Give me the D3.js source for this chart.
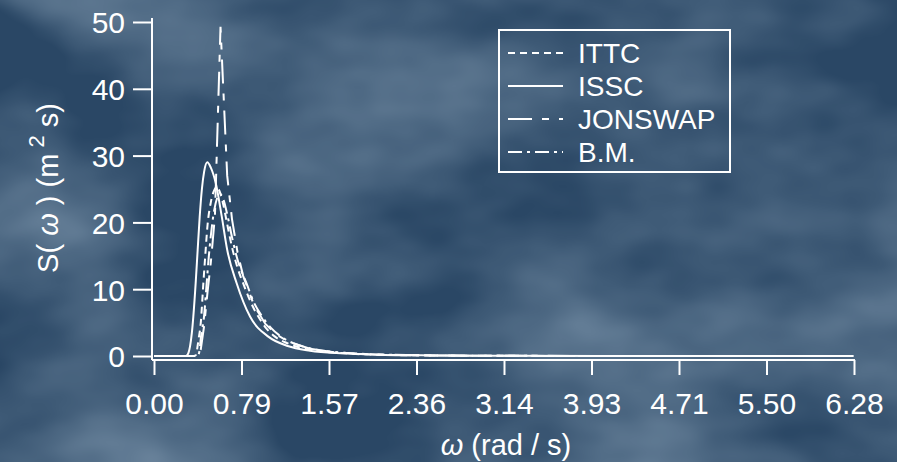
<!DOCTYPE html>
<html>
<head>
<meta charset="utf-8">
<script src="https://cdn.jsdelivr.net/npm/d3@7"></script>
<style>
  body { margin: 0; background: #2c4a68; }
  svg { display: block; font-family: "Liberation Sans", Arial, sans-serif; }
</style>
</head>
<body>
<svg width="897" height="462"></svg>
<script>
// wave spectra (omega in rad/s, S in m^2 s)
var ittcW = [0, 0.36, 0.374, 0.40, 0.42, 0.443, 0.46, 0.48, 0.51, 0.54, 0.565, 0.59, 0.62, 0.66, 0.70, 0.75, 0.80, 0.87, 0.936, 1.0, 1.086, 1.2, 1.35, 1.5, 1.7, 2.0, 2.5, 3.0, 4.0, 6.28];
var ittcS = [0, 0, 0.1, 2.5, 5.0, 10.9, 15.0, 19.5, 23.0, 24.8, 25.3, 24.6, 22.8, 19.5, 16.3, 13.2, 10.9, 8.0, 5.9, 4.3, 2.9, 1.9, 1.1, 0.7, 0.4, 0.2, 0.08, 0.03, 0.01, 0];

var isscW = [0, 0.28, 0.293, 0.31, 0.323, 0.34, 0.353, 0.374, 0.392, 0.41, 0.43, 0.45, 0.478, 0.51, 0.554, 0.608, 0.657, 0.742, 0.862, 1.026, 1.2, 1.4, 1.7, 2.0, 2.5, 3.0, 4.0, 6.28];
var isscS = [0, 0, 0.05, 0.5, 1.4, 3.5, 5.9, 10.9, 15.9, 20.8, 25.0, 27.6, 29.0, 28.2, 25.9, 20.9, 15.9, 10.9, 5.9, 2.9, 1.5, 0.8, 0.4, 0.2, 0.08, 0.03, 0.01, 0];

var jonswapW = [0, 0.40, 0.42, 0.45, 0.48, 0.51, 0.547, 0.597, 0.657, 0.70, 0.75, 0.80, 0.90, 1.0, 1.1, 1.2, 1.4, 1.6, 1.8, 2.0, 2.5, 3.0, 4.0, 6.28];
var jonswapS = [0, 0, 1.0, 4.5, 9.5, 14.0, 21.0, 49.3, 27.0, 20.5, 15.5, 12.0, 7.5, 4.8, 3.2, 2.2, 1.1, 0.6, 0.35, 0.22, 0.08, 0.03, 0.01, 0];

var bmW = [0, 0.39, 0.405, 0.422, 0.449, 0.473, 0.49, 0.51, 0.54, 0.57, 0.59, 0.62, 0.66, 0.70, 0.75, 0.83, 0.90, 0.972, 1.05, 1.15, 1.3, 1.5, 1.7, 2.0, 2.5, 3.0, 4.0, 6.28];
var bmS = [0, 0, 0.5, 2.9, 5.9, 10.9, 14.5, 18.0, 21.8, 23.8, 24.3, 23.6, 21.0, 17.8, 14.4, 10.9, 7.9, 5.9, 4.2, 2.8, 1.6, 0.85, 0.5, 0.24, 0.09, 0.04, 0.01, 0];

var xTicks = [0, Math.PI / 4, Math.PI / 2, 3 * Math.PI / 4, Math.PI, 5 * Math.PI / 4, 3 * Math.PI / 2, 7 * Math.PI / 4, 2 * Math.PI];
var xTickLabels = ["0.00", "0.79", "1.57", "2.36", "3.14", "3.93", "4.71", "5.50", "6.28"];
var yTicks = [0, 10, 20, 30, 40, 50];
var seriesNames = ["ITTC", "ISSC", "JONSWAP", "B.M."];

var svg = d3.select("svg");
var width = +svg.attr("width");
var height = +svg.attr("height");

// cloudy blue background, kept subtle
var defs = svg.append("defs");
var f = defs.append("filter").attr("id", "clouds")
  .attr("x", 0).attr("y", 0).attr("width", "100%").attr("height", "100%");
f.append("feTurbulence").attr("type", "fractalNoise")
  .attr("baseFrequency", "0.004 0.007").attr("numOctaves", 4).attr("seed", 7);
f.append("feColorMatrix").attr("type", "matrix")
  .attr("values", "0 0 0 0 0.45  0 0 0 0 0.58  0 0 0 0 0.70  0 0 0 0.9 -0.32");

svg.append("rect").attr("width", width).attr("height", height).attr("fill", "#2a4765");
svg.append("rect").attr("width", width).attr("height", height).attr("filter", "url(#clouds)");

var x = d3.scaleLinear().domain([0, 2 * Math.PI]).range([154, 854]);
var y = d3.scaleLinear().domain([0, 50]).range([356, 22]);

var axisY = y(0) + 4; // x axis sits a little below the zero line

// y axis
var gy = svg.append("g").attr("transform", "translate(152,0)")
  .call(d3.axisLeft(y).tickValues(yTicks).tickSize(19).tickPadding(8).tickSizeOuter(0));
gy.select(".domain").remove();
gy.append("line").attr("x1", 0).attr("x2", 0)
  .attr("y1", y(50) - 4).attr("y2", axisY)
  .attr("stroke", "#fff").attr("stroke-width", 2);
gy.selectAll(".tick line").attr("stroke", "#fff").attr("stroke-width", 2);
gy.selectAll(".tick text").attr("fill", "#fff").style("font-size", "30px").attr("dy", "0.36em");

// x axis
var gx = svg.append("g").attr("transform", `translate(0,${axisY})`)
  .call(d3.axisBottom(x).tickValues(xTicks).tickFormat((d, i) => xTickLabels[i])
    .tickSize(15).tickPadding(18).tickSizeOuter(0));
gx.select(".domain").remove();
gx.append("line").attr("x1", 152).attr("x2", x(2 * Math.PI) + 1)
  .attr("stroke", "#fff").attr("stroke-width", 2);
gx.selectAll(".tick line").attr("stroke", "#fff").attr("stroke-width", 2);
gx.selectAll(".tick text").attr("fill", "#fff").style("font-size", "30px");

// axis titles
var xt = svg.append("text").attr("x", 506).attr("y", 455)
  .attr("text-anchor", "middle").attr("fill", "#fff").style("font-size", "29px");
xt.append("tspan").style("font-style", "italic").text("ω");
xt.append("tspan").text(" (rad / s)");

var yt = svg.append("text").attr("transform", "translate(58,188) rotate(-90)")
  .attr("text-anchor", "middle").attr("fill", "#fff").style("font-size", "29px");
yt.append("tspan").text("S( ");
yt.append("tspan").style("font-style", "italic").text("ω");
yt.append("tspan").text(" ) (m");
yt.append("tspan").attr("dy", -14).style("font-size", "22px").text(" 2");
yt.append("tspan").attr("dy", 14).text(" s)");

// curves
var series = [
  { name: "ITTC", w: ittcW, s: ittcS, dash: "7,5", curve: d3.curveMonotoneX },
  { name: "ISSC", w: isscW, s: isscS, dash: null, curve: d3.curveMonotoneX },
  { name: "JONSWAP", w: jonswapW, s: jonswapS, dash: "24,10,7,10", curve: d3.curveLinear },
  { name: "B.M.", w: bmW, s: bmS, dash: "14,5,3,5", curve: d3.curveMonotoneX }
];

series.forEach(function (d) {
  var pts = d.w.map((w, i) => [w, d.s[i]]);
  var line = d3.line().x(p => x(p[0])).y(p => y(p[1])).curve(d.curve);
  svg.append("path").datum(pts)
    .attr("d", line)
    .attr("fill", "none")
    .attr("stroke", "#fff")
    .attr("stroke-width", 2)
    .attr("stroke-dasharray", d.dash);
});

// legend
var lg = svg.append("g");
lg.append("rect").attr("x", 499).attr("y", 30).attr("width", 231).attr("height", 142)
  .attr("fill", "none").attr("stroke", "#fff").attr("stroke-width", 2);
var rowY = [53, 86, 119, 152];
series.forEach(function (d, i) {
  lg.append("line").attr("x1", 508).attr("x2", 563)
    .attr("y1", rowY[i]).attr("y2", rowY[i])
    .attr("stroke", "#fff").attr("stroke-width", 2)
    .attr("stroke-dasharray", d.dash);
  lg.append("text").attr("x", 578).attr("y", rowY[i]).attr("dy", "0.36em")
    .attr("fill", "#fff").style("font-size", "28px").text(seriesNames[i]);
});
</script>
</body>
</html>
